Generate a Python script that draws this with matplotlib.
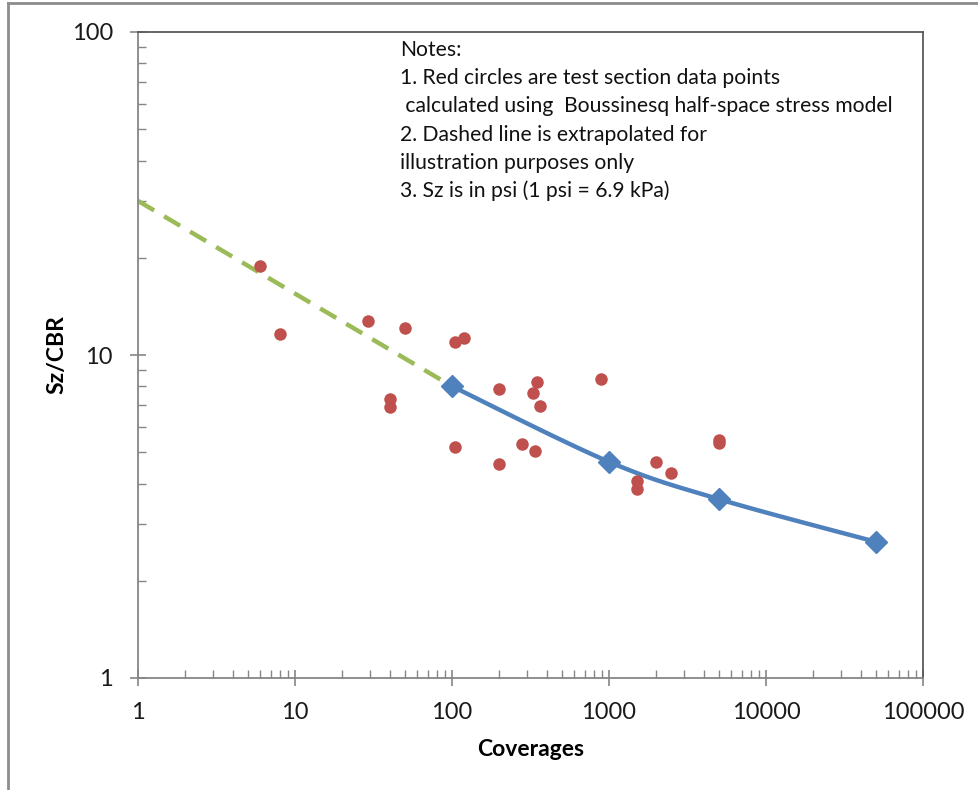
import numpy as np
import matplotlib
matplotlib.use('Agg')
import matplotlib.pyplot as plt
from matplotlib.lines import Line2D
from matplotlib.ticker import LogLocator, NullFormatter, FixedLocator, FixedFormatter

plt.rcParams['font.family'] = ['Lato', 'DejaVu Sans']

# test section data points (red circles)
cov_pts = [6, 8, 29, 50, 40, 40, 105, 120, 105, 200, 200, 280, 340, 330, 347, 366,
           890, 1500, 1500, 2000, 2500, 5000, 5000]
ratio_pts = [18.9, 11.6, 12.7, 12.1, 7.3, 6.9, 11.0, 11.3, 5.2, 7.85, 4.6, 5.3, 5.05, 7.65, 8.25, 6.95,
             8.4, 4.07, 3.85, 4.67, 4.32, 5.46, 5.34]

# design curve (blue diamonds)
cov_curve = [100, 1000, 5000, 50000]
ratio_curve = [8.0, 4.67, 3.58, 2.64]

# extrapolated part (green dashed)
cov_extrap = [1, 100]
ratio_extrap = [30, 8.0]

notes = ["Notes:",
         "1. Red circles are test section data points",
         " calculated using  Boussinesq half-space stress model",
         "2. Dashed line is extrapolated for",
         "illustration purposes only",
         "3. Sz is in psi (1 psi = 6.9 kPa)"]

xticks = [1, 10, 100, 1000, 10000, 100000]
yticks = [1, 10, 100]

red = '#C0504D'
blue = '#4F81BD'
green = '#9BBB59'
axcol = '#868686'


def smooth(xs, ys, n=40):
    # excel-like smoothed line: catmull-rom bezier in log-log space
    lx = np.log10(xs)
    ly = np.log10(ys)
    p = np.column_stack([lx, ly])
    out = []
    for i in range(len(p) - 1):
        p0 = p[i - 1] if i > 0 else p[i]
        p3 = p[i + 2] if i + 2 < len(p) else p[i + 1]
        c1 = p[i] + (p[i + 1] - p0) / 6.0
        c2 = p[i + 1] - (p3 - p[i]) / 6.0
        t = np.linspace(0, 1, n)[:, None]
        seg = ((1 - t) ** 3 * p[i] + 3 * (1 - t) ** 2 * t * c1
               + 3 * (1 - t) * t ** 2 * c2 + t ** 3 * p[i + 1])
        out.append(seg)
    out = np.vstack(out)
    return 10 ** out[:, 0], 10 ** out[:, 1]


fig = plt.figure(figsize=(9.79, 7.90), dpi=100)
ax = fig.add_axes([138 / 979, 1 - 678 / 790, (923 - 138) / 979, (678 - 32) / 790])

ax.set_xscale('log')
ax.set_yscale('log')
ax.set_xlim(1, 100000)
ax.set_ylim(1, 100)

ax.plot(cov_extrap, ratio_extrap, color=green, lw=3.2, dashes=(4.2, 2.6), zorder=2)
sx, sy = smooth(cov_curve, ratio_curve)
ax.plot(sx, sy, color=blue, lw=3.2, zorder=3, solid_capstyle='round')
ax.plot(cov_curve, ratio_curve, 'D', color=blue, ms=11, zorder=4)
ax.plot(cov_pts, ratio_pts, 'o', color=red, ms=9, zorder=5, mec='none')

for s in ['left', 'bottom']:
    ax.spines[s].set_color(axcol)
    ax.spines[s].set_linewidth(1.3)
for s in ['top', 'right']:
    ax.spines[s].set_color('#595959')
    ax.spines[s].set_linewidth(1.3)

ax.xaxis.set_major_locator(FixedLocator(xticks))
ax.xaxis.set_major_formatter(FixedFormatter([str(v) for v in xticks]))
ax.yaxis.set_major_locator(FixedLocator(yticks))
ax.yaxis.set_major_formatter(FixedFormatter([str(v) for v in yticks]))
ax.xaxis.set_minor_locator(LogLocator(base=10, subs=np.arange(2, 10), numticks=20))
ax.yaxis.set_minor_locator(LogLocator(base=10, subs=np.arange(2, 10), numticks=20))
ax.xaxis.set_minor_formatter(NullFormatter())
ax.yaxis.set_minor_formatter(NullFormatter())
ax.tick_params(which='major', direction='inout', length=12, width=1.2, color=axcol,
               labelsize=17, labelcolor='#1a1a1a')
ax.tick_params(axis='x', which='major', pad=11)
ax.tick_params(axis='y', which='major', pad=12)
ax.tick_params(which='minor', direction='in', length=6, width=1.0, color=axcol)
ax.tick_params(top=False, right=False, which='both')

ax.set_xlabel('Coverages', fontsize=16.5, fontweight='bold', labelpad=12)
ax.set_ylabel('Sz/CBR', fontsize=16.5, fontweight='bold', labelpad=3)

y0 = 50
for i, line in enumerate(notes):
    fig.text(400 / 979, 1 - (y0 + i * 28.2) / 790, line, fontsize=15.2, color='#111111',
             va='center', ha='left')

# outer chart border (top and left visible)
fig.add_artist(Line2D([8 / 979, 1], [1 - 3 / 790, 1 - 3 / 790], color='#8c8c8c', lw=2,
                      transform=fig.transFigure))
fig.add_artist(Line2D([8 / 979, 8 / 979], [0, 1 - 3 / 790], color='#8c8c8c', lw=2,
                      transform=fig.transFigure))

plt.savefig('out.png', dpi=100)
